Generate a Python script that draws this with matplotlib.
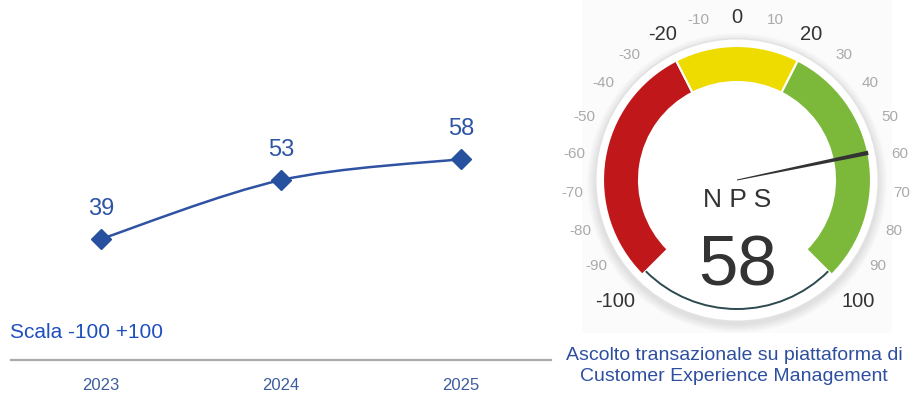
import numpy as np
import matplotlib.pyplot as plt
from matplotlib.path import Path
from matplotlib.patches import PathPatch, Wedge, Circle, Arc, Polygon, Rectangle

plt.rcParams['font.family'] = ['Liberation Sans', 'DejaVu Sans']

# Data
years = ['2023', '2024', '2025']
nps = [39, 53, 58]

gauge_value = 58
band_edges = [-100, -20, 20, 100]
band_colors = ['#C0181A', '#EEDC00', '#7CB93A']
major_ticks = [-100, -20, 0, 20, 100]
tick_values = list(range(-100, 101, 10))

scale_label = 'Scala -100 +100'
subtitle = 'Ascolto transazionale su piattaforma di\nCustomer Experience Management'

W, H = 914, 394
fig = plt.figure(figsize=(W / 100, H / 100), dpi=100)

# ---- left: trend line ----
blue = '#2F52A3'
ax = fig.add_axes([11 / W, 34 / H, 540 / W, 340 / H])
ax.set_xlim(-0.5, 2.5)
ax.set_ylim(10.2, 91.1)

x = np.arange(len(nps), dtype=float)
y = np.array(nps, dtype=float)
# smooth curve through the points (Catmull-Rom -> Bezier)
px = np.concatenate([[x[0]], x, [x[-1]]])
py = np.concatenate([[y[0]], y, [y[-1]]])
verts = [(x[0], y[0])]
codes = [Path.MOVETO]
for i in range(len(x) - 1):
    c1 = (px[i + 1] + (px[i + 2] - px[i]) / 6, py[i + 1] + (py[i + 2] - py[i]) / 6)
    c2 = (px[i + 2] - (px[i + 3] - px[i + 1]) / 6, py[i + 2] - (py[i + 3] - py[i + 1]) / 6)
    verts += [c1, c2, (x[i + 1], y[i + 1])]
    codes += [Path.CURVE4] * 3
ax.add_patch(PathPatch(Path(verts, codes), fill=False, edgecolor=blue, lw=1.8))
ax.plot(x, y, ls='none', marker='D', ms=10, color='#27509F')
for xi, yi in zip(x, y):
    ax.annotate(str(int(yi)), (xi, yi), xytext=(0, 14), textcoords='offset points',
                ha='center', va='bottom', fontsize=17, color='#2E54A4')

ax.set_xticks(x)
ax.set_xticklabels(years, fontsize=12, color='#3D5C9E')
ax.tick_params(axis='x', length=0, pad=13)
ax.set_yticks([])
for s in ['top', 'right', 'left']:
    ax.spines[s].set_visible(False)
ax.spines['bottom'].set_color('#AAAAAA')
ax.spines['bottom'].set_linewidth(1.6)

fig.text(10 / W, 1 - 333 / H, scale_label, fontsize=15, color='#1F4FBF',
         ha='left', va='center')

# ---- right: gauge ----
g = fig.add_axes([0, 0, 1, 1])
g.set_xlim(0, W)
g.set_ylim(0, H)
g.axis('off')
g.patch.set_alpha(0)

cx, cy = 737, H - 180
g.add_patch(Rectangle((582, H - 333), 310, 333, facecolor='#FBFBFB', edgecolor='none', zorder=0))

for k in range(9, 0, -1):
    g.add_patch(Circle((cx, cy - 3), 141 + k, facecolor='#000000', alpha=0.012, edgecolor='none', zorder=1))
g.add_patch(Circle((cx, cy), 142, facecolor='#E2E2E2', edgecolor='none', zorder=2))
g.add_patch(Circle((cx, cy), 140.5, facecolor='white', edgecolor='none', zorder=2))


def ang(v):
    return 90 - v * 1.35


r_out, r_in = 134, 98
for lo, hi, col in zip(band_edges[:-1], band_edges[1:], band_colors):
    g.add_patch(Wedge((cx, cy), r_out, ang(hi), ang(lo), width=r_out - r_in,
                      facecolor=col, edgecolor='white', lw=1.5, zorder=3))

# arc along the bottom
g.add_patch(Arc((cx, cy), 258, 258, theta1=ang(-100), theta2=ang(100) + 360,
                color='#2C4A50', lw=1.4, zorder=3))

for v in tick_values:
    a = np.radians(ang(v))
    if v in major_ticks:
        r = 172 if abs(v) == 100 else 163
        g.text(cx + r * np.cos(a), cy + r * np.sin(a), str(v), ha='center', va='center',
               fontsize=14.5, color='#333333', zorder=4)
    else:
        r = 165
        g.text(cx + r * np.cos(a), cy + r * np.sin(a), str(v), ha='center', va='center',
               fontsize=11, color='#AAAAAA', zorder=4)

# needle
a = np.radians(ang(gauge_value))
tip = np.array([cx + 134 * np.cos(a), cy + 134 * np.sin(a)])
base = np.array([cx, cy])
nrm = np.array([-np.sin(a), np.cos(a)])
g.add_patch(Polygon([base + nrm * 0.5, tip + nrm * 2.2, tip - nrm * 2.2, base - nrm * 0.5],
                    closed=True, facecolor='#333333', edgecolor='none', zorder=5))

g.text(cx, H - 207, 'N P S', ha='center', va='baseline', fontsize=19, color='#333333', zorder=5)
g.text(cx + 1, H - 285, str(gauge_value), ha='center', va='baseline', fontsize=51, color='#333333', zorder=5)

g.text(734, H - 366, subtitle, ha='center', va='center', fontsize=14, color='#2E4F9F',
       linespacing=1.3, zorder=5)

fig.savefig('out.png', dpi=100)
